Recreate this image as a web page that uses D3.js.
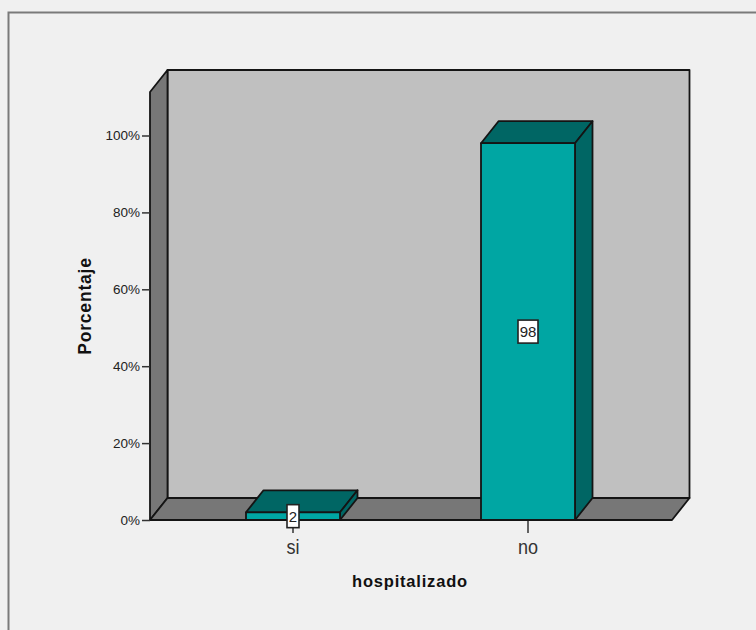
<!DOCTYPE html>
<html>
<head>
<meta charset="utf-8">
<script src="https://cdn.jsdelivr.net/npm/d3@7"></script>
<style>
  html, body { margin: 0; padding: 0; background: #f0f0f0; }
  svg { display: block; }
  text { font-family: "Liberation Sans", Arial, sans-serif; }
</style>
</head>
<body>
<svg id="chart" width="756" height="630"></svg>
<script>
const categories = ["si", "no"];
const percentages = [2, 98];
const yTicks = [0, 20, 40, 60, 80, 100];
const xTitle = "hospitalizado";
const yTitle = "Porcentaje";

const svg = d3.select("#chart");
const ink = "#141414";
const depth = { x: 17.5, y: -22 };
const plot = { left: 150, right: 672, bottom: 520, top: 92 };

const y = d3.scaleLinear().domain([0, 100]).range([plot.bottom, 135.5]);
const x = d3.scaleBand().domain(categories).range([175.5, 645.5])
  .paddingInner(0.6).paddingOuter(0.3);

const poly = (pts, fill, width = 1.8) => svg.append("polygon")
  .attr("points", pts.map(p => p.join(",")).join(" "))
  .attr("fill", fill).attr("stroke", ink)
  .attr("stroke-width", width).attr("stroke-linejoin", "round");

// Outer frame, open on the right and bottom edges
svg.append("path").attr("d", "M8.5,630V12.5H756")
  .attr("fill", "none").attr("stroke", "#7a7a7a").attr("stroke-width", 2);

// Back wall, side wall and floor of the 3D box
const { left: L, right: R, top: T, bottom: B } = plot;
poly([[L + depth.x, T + depth.y], [R + depth.x, T + depth.y], [R + depth.x, B + depth.y], [L + depth.x, B + depth.y]], "#c0c0c0");
poly([[L, T], [L + depth.x, T + depth.y], [L + depth.x, B + depth.y], [L, B]], "#777777");
poly([[L, B], [L + depth.x, B + depth.y], [R + depth.x, B + depth.y], [R, B]], "#777777");

// Value axis
const yAxis = svg.append("g").attr("transform", `translate(${L},0)`)
  .call(d3.axisLeft(y).tickValues(yTicks).tickSize(8).tickPadding(2).tickFormat(d => d + "%"));
yAxis.select(".domain").remove();
yAxis.selectAll("line").attr("stroke", "#333").attr("stroke-width", 1.5);
yAxis.selectAll("text").attr("font-size", 13.5).attr("fill", "#222")
  .style("font-family", '"Liberation Sans", Arial, sans-serif');

// Category axis: tall, slightly condensed labels
const xAxis = svg.append("g").attr("transform", `translate(0,${B})`)
  .call(d3.axisBottom(x).tickSize(13).tickPadding(6));
xAxis.select(".domain").remove();
xAxis.selectAll("line").attr("stroke", "#333").attr("stroke-width", 1.5);
xAxis.selectAll("text").attr("font-size", 20.5).attr("fill", "#333")
  .attr("transform", "scale(0.88,1)")
  .style("font-family", '"Liberation Sans", Arial, sans-serif');

// Bars: front, top and right faces
const frontFill = "#00a6a3";
const shadeFill = "#006664";
categories.forEach((c, i) => {
  const v = percentages[i];
  const x0 = x(c), x1 = x0 + x.bandwidth(), yTop = y(v);
  poly([[x0, yTop], [x0 + depth.x, yTop + depth.y], [x1 + depth.x, yTop + depth.y], [x1, yTop]], shadeFill);
  poly([[x1, yTop], [x1 + depth.x, yTop + depth.y], [x1 + depth.x, B + depth.y], [x1, B]], shadeFill);
  poly([[x0, yTop], [x1, yTop], [x1, B], [x0, B]], frontFill);
});

// Value labels in white boxes at the middle of each bar
categories.forEach((c, i) => {
  const v = percentages[i];
  const cx = x(c) + x.bandwidth() / 2, cy = y(v / 2);
  const label = String(v);
  const w = label.length > 1 ? 20 : 12, h = 23;
  svg.append("rect").attr("x", cx - w / 2).attr("y", cy - h / 2)
    .attr("width", w).attr("height", h)
    .attr("fill", "#fff").attr("stroke", "#222").attr("stroke-width", 1.6);
  svg.append("text").attr("x", cx).attr("y", cy + 5.5)
    .attr("text-anchor", "middle").attr("font-size", 15).attr("fill", "#222").text(label);
});

// Axis titles
svg.append("text").attr("x", 410).attr("y", 587).attr("text-anchor", "middle")
  .attr("font-size", 16.5).attr("font-weight", "bold").attr("letter-spacing", 0.8)
  .attr("fill", "#111").text(xTitle);
svg.append("text").attr("transform", "translate(91,306) rotate(-90)")
  .attr("text-anchor", "middle").attr("font-size", 17.5).attr("font-weight", "bold")
  .attr("letter-spacing", 0.8).attr("fill", "#111").text(yTitle);
</script>
</body>
</html>
